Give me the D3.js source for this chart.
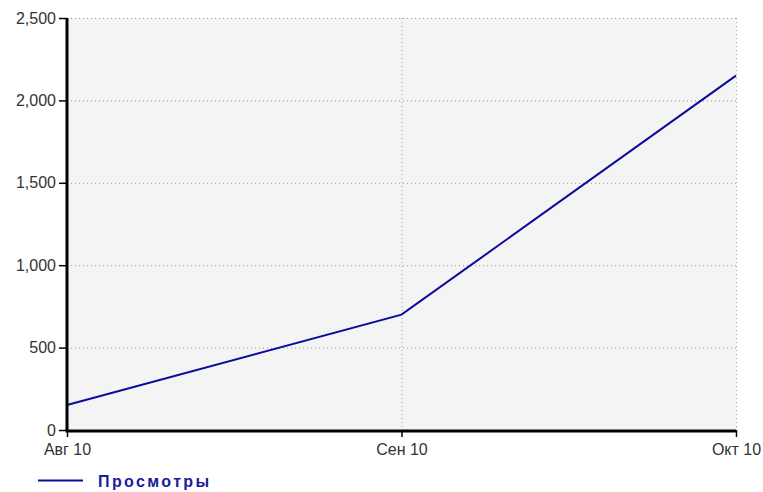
<!DOCTYPE html>
<html><head><meta charset="utf-8">
<script src="https://cdn.jsdelivr.net/npm/d3@7"></script>
<style>body{margin:0;background:#fff}svg{display:block}</style>
</head><body>
<svg id="c" width="763" height="492"></svg>
<script>
const categories = ["Авг 10", "Сен 10", "Окт 10"];
const views = [152, 700, 2150];
const yTicks = [0, 500, 1000, 1500, 2000, 2500];
const seriesName = "Просмотры";

const svg = d3.select("#c");
const m = {l: 67, r: 736, t: 18, b: 430};
const x = d3.scalePoint().domain(categories).range([m.l, m.r]);
const y = d3.scaleLinear().domain([0, 2500]).range([m.b, m.t]);
const font = "'Liberation Sans', Arial, sans-serif";

svg.append("rect").attr("x", m.l).attr("y", m.t).attr("width", m.r - m.l).attr("height", m.b - m.t).attr("fill", "#f4f4f4");

// grid
const g = svg.append("g");
g.selectAll("line.h").data(yTicks.filter(d => d > 0)).join("line")
  .attr("x1", m.l).attr("x2", m.r).attr("y1", d => y(d) + 0.5).attr("y2", d => y(d) + 0.5)
  .attr("stroke", "#999").attr("stroke-dasharray", "1,3");
g.selectAll("line.v").data(categories.slice(1)).join("line")
  .attr("x1", d => x(d) + 0.5).attr("x2", d => x(d) + 0.5).attr("y1", m.t).attr("y2", m.b)
  .attr("stroke", "#999").attr("stroke-dasharray", "1,3");

// line
svg.append("path").datum(views)
  .attr("d", d3.line().x((d, i) => x(categories[i])).y(d => y(d)))
  .attr("fill", "none").attr("stroke", "#0a0a9e").attr("stroke-width", 2);

// y axis
const ya = svg.append("g").attr("transform", `translate(${m.l},0)`)
  .call(d3.axisLeft(y).tickValues(yTicks).tickFormat(d3.format(",")).tickSize(8).tickPadding(3));
ya.select(".domain").remove();
ya.selectAll(".tick line").attr("stroke", "#000").attr("stroke-width", 1.5);
ya.selectAll("text").attr("font-family", font).attr("font-size", 16).attr("fill", "#333");
svg.append("line").attr("x1", m.l).attr("x2", m.l).attr("y1", m.t).attr("y2", m.b + 1)
  .attr("stroke", "#000").attr("stroke-width", 3);

// x axis
const xa = svg.append("g").attr("transform", `translate(0,${m.b})`)
  .call(d3.axisBottom(x).tickSize(7).tickPadding(7));
xa.select(".domain").remove();
xa.selectAll(".tick line").attr("stroke", "#000").attr("stroke-width", 1.5);
xa.selectAll("text").attr("font-family", font).attr("font-size", 16).attr("fill", "#333");
svg.append("line").attr("x1", m.l - 1.5).attr("x2", m.r).attr("y1", m.b + 1).attr("y2", m.b + 1)
  .attr("stroke", "#000").attr("stroke-width", 3);

// legend
svg.append("line").attr("x1", 38).attr("x2", 83).attr("y1", 480.5).attr("y2", 480.5)
  .attr("stroke", "#0a0a9e").attr("stroke-width", 2);
svg.append("text").attr("x", 98).attr("y", 487).text(seriesName)
  .attr("font-family", font).attr("font-size", 16).attr("font-weight", "bold")
  .attr("letter-spacing", 2.4).attr("fill", "#1a1aa0");
</script>
</body></html>
